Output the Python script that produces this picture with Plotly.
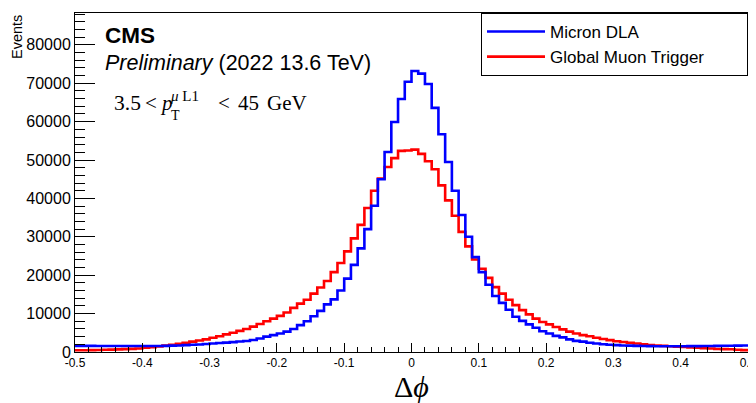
import numpy as np
import plotly.graph_objects as go

# ---- data (100 bins of width 0.01 from -0.5 to 0.5) ----
bin_edges = np.round(np.linspace(-0.5, 0.5, 101), 3)

micron_dla = [
    1600, 1600, 1600, 1580, 1570, 1560, 1550, 1550, 1550, 1550,
    1550, 1560, 1580, 1600, 1650, 1700, 1780, 1870, 1970, 2080,
    2200, 2330, 2450, 2580, 2720, 2880, 3120, 3500, 4000, 4400,
    4800, 5300, 6000, 7000, 8000, 9300, 10700, 12400, 13700, 16000,
    19100, 22700, 27000, 32000, 38100, 45000, 52100, 59900, 65900, 70400,
    73200, 72500, 69800, 63600, 56700, 49500, 42000, 35700, 30000, 24700,
    20800, 17500, 14600, 12800, 11000, 9200, 8100, 7200, 6300, 5400,
    4800, 4200, 3800, 3300, 2900, 2700, 2400, 2200, 2000, 1900,
    1800, 1700, 1650, 1600, 1550, 1520, 1500, 1500, 1500, 1500,
    1500, 1520, 1540, 1560, 1580, 1600, 1620, 1640, 1660, 1680,
]

global_muon_trigger = [
    450, 470, 500, 530, 570, 620, 680, 740, 820, 900,
    1100, 1250, 1450, 1650, 1900, 2150, 2400, 2700, 3000, 3300,
    3700, 4100, 4600, 5000, 5500, 6000, 6600, 7300, 8000, 8700,
    9400, 10300, 11500, 12600, 13600, 15200, 16800, 18500, 20800, 23200,
    26200, 29600, 33100, 37500, 42000, 45200, 48200, 50500, 52400, 52500,
    52700, 51600, 49700, 47600, 43400, 39500, 35500, 31300, 27500, 24100,
    21700, 19300, 16900, 15200, 13600, 12200, 10900, 9800, 8700, 7800,
    7200, 6500, 5900, 5300, 4800, 4400, 4100, 3700, 3400, 3100,
    2800, 2600, 2400, 2200, 2000, 1800, 1700, 1600, 1500, 1400,
    1300, 1200, 1100, 1000, 900, 800, 750, 700, 600, 500,
]

x_tick_vals = [-0.5, -0.4, -0.3, -0.2, -0.1, 0, 0.1, 0.2, 0.3, 0.4, 0.5]
x_tick_text = ["-0.5", "-0.4", "-0.3", "-0.2", "-0.1", "0", "0.1", "0.2", "0.3", "0.4", "0.5"]
y_tick_vals = [0, 10000, 20000, 30000, 40000, 50000, 60000, 70000, 80000]
y_tick_text = ["0", "10000", "20000", "30000", "40000", "50000", "60000", "70000", "80000"]

# ---- layout geometry (window pixels) ----
# the page body has an 8px margin, so the figure is placed at (8, 8)
OFF = 8
WIN_W, WIN_H = 756, 403
FW, FH = WIN_W - OFF, WIN_H - OFF
PX_L, PX_R, PX_T, PX_B = 75, 748, 13, 352          # plot frame in window pixels
L, T = PX_L - OFF, PX_T - OFF
R, B = FW - (PX_R - OFF), FH - (PX_B - OFF)
PW, PH = PX_R - PX_L, PX_B - PX_T


def px(xp):
    return (xp - PX_L) / PW


def py(yp):
    return (PX_B - yp) / PH


def step_xy(vals):
    xs = list(bin_edges)
    ys = list(vals) + [vals[-1]]
    return xs, ys


NB = "\u00a0"
fig = go.Figure()
xr, yr = step_xy(global_muon_trigger)
fig.add_trace(go.Scatter(x=xr, y=yr, mode="lines", line=dict(color="#ff0000", width=2.6, shape="hv"),
                         name="Global Muon Trigger" + NB * 8, legendrank=2))
xb, yb = step_xy(micron_dla)
fig.add_trace(go.Scatter(x=xb, y=yb, mode="lines", line=dict(color="#0000ff", width=2.6, shape="hv"),
                         name="Micron DLA", legendrank=1))

sans = "Liberation Sans, Arial, Helvetica, sans-serif"
serif = "Liberation Serif, Times New Roman, serif"

fig.update_layout(
    width=FW, height=FH,
    margin=dict(l=L, r=R, t=T, b=B, pad=0, autoexpand=False),
    paper_bgcolor="white", plot_bgcolor="white",
    showlegend=True,
    legend=dict(x=1, y=1, xanchor="right", yanchor="top", bordercolor="black", borderwidth=1,
                bgcolor="white", font=dict(family=sans, size=17, color="black"),
                tracegroupgap=0, itemwidth=58),
    xaxis=dict(range=[-0.5, 0.5], showgrid=False, zeroline=False, showline=True, linecolor="black",
               linewidth=1, mirror=True, ticks="inside", ticklen=9, tickcolor="black", automargin=False,
               tickvals=x_tick_vals, ticktext=x_tick_text, ticklabeloverflow="allow",
               tickfont=dict(family=sans, size=12, color="black"),
               minor=dict(ticks="inside", ticklen=5, dtick=0.02, tick0=0, tickcolor="black", showgrid=False)),
    yaxis=dict(range=[0, 88300], showgrid=False, zeroline=False, showline=True, linecolor="black",
               linewidth=1, mirror=True, ticks="inside", ticklen=20, tickcolor="black", automargin=False,
               tickvals=y_tick_vals, ticktext=y_tick_text, ticklabeloverflow="allow",
               tickfont=dict(family=sans, size=16, color="black"),
               minor=dict(ticks="inside", ticklen=10, dtick=2000, tick0=0, tickcolor="black", showgrid=False)),
)

ann = []
ann.append(dict(text="<b>CMS</b>", x=px(103), y=py(35), xanchor="left", yanchor="middle",
                font=dict(family=sans, size=22.5, color="black")))
ann.append(dict(text="<i>Preliminary</i> (2022 13.6 TeV)", x=px(103), y=py(62.5), xanchor="left", yanchor="middle",
                font=dict(family=sans, size=21.5, color="black")))
# pT cut label, pieces placed to follow the reference spacing
ann.append(dict(text="3.5", x=px(112), y=py(103), xanchor="left", yanchor="middle",
                font=dict(family=serif, size=21.5, color="black")))
ann.append(dict(text="&lt;", x=px(143), y=py(103), xanchor="left", yanchor="middle",
                font=dict(family=serif, size=21, color="black")))
ann.append(dict(text="<i>p</i>", x=px(158), y=py(103), xanchor="left", yanchor="middle",
                font=dict(family=serif, size=21, color="black")))
ann.append(dict(text="T", x=px(169), y=py(116), xanchor="left", yanchor="middle",
                font=dict(family=serif, size=14, color="black")))
ann.append(dict(text="<i>μ</i> L1", x=px(168), y=py(96), xanchor="left", yanchor="middle",
                font=dict(family=serif, size=15, color="black")))
ann.append(dict(text="&lt;", x=px(216), y=py(103), xanchor="left", yanchor="middle",
                font=dict(family=serif, size=21, color="black")))
ann.append(dict(text="45", x=px(236), y=py(103), xanchor="left", yanchor="middle",
                font=dict(family=serif, size=21, color="black")))
ann.append(dict(text="GeV", x=px(265), y=py(103), xanchor="left", yanchor="middle",
                font=dict(family=serif, size=21, color="black")))
ann.append(dict(text="Events", x=px(17), y=py(13), xanchor="center", yanchor="top", textangle=-90,
                font=dict(family=sans, size=14.5, color="black")))
ann.append(dict(text="Δ<i>ϕ</i>", x=0.5, y=py(386), xanchor="center", yanchor="middle",
                font=dict(family=serif, size=30, color="black")))
for a in ann:
    a.update(xref="paper", yref="paper", showarrow=False)
fig.update_layout(annotations=ann)

fig.write_html("out.html")
